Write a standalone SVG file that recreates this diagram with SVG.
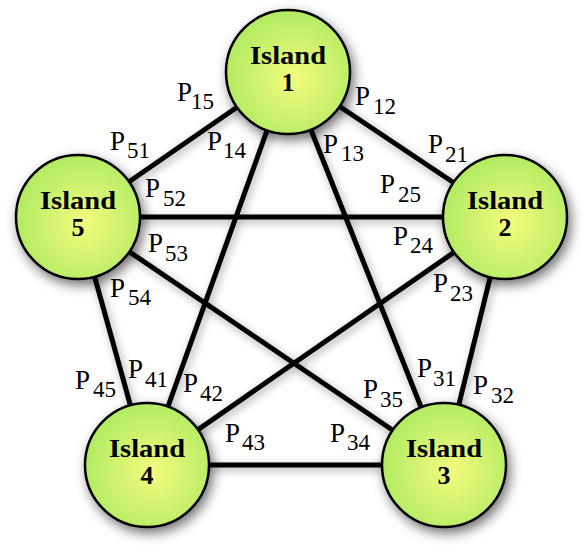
<svg xmlns="http://www.w3.org/2000/svg" width="584" height="554" viewBox="0 0 584 554">
<defs>
<radialGradient id="g" cx="0.55" cy="0.55" r="0.6">
<stop offset="0" stop-color="#f4fb7e"/>
<stop offset="1" stop-color="#acea60"/>
</radialGradient>
<filter id="ns" x="-40%" y="-40%" width="180%" height="180%">
<feDropShadow dx="3" dy="5" stdDeviation="6" flood-color="#000" flood-opacity="0.55"/>
</filter>
<filter id="ls" x="-20%" y="-20%" width="140%" height="140%">
<feDropShadow dx="2" dy="3" stdDeviation="4" flood-color="#000" flood-opacity="0.35"/>
</filter>
</defs>
<rect width="584" height="554" fill="#fff"/>
<g id="connectors" filter="url(#ls)" stroke="#000" stroke-width="5" fill="none">
<line x1="288" y1="72" x2="78" y2="217"/>
<line x1="288" y1="72" x2="505" y2="217"/>
<line x1="288" y1="72" x2="147" y2="465"/>
<line x1="288" y1="72" x2="444" y2="465"/>
<line x1="78" y1="217" x2="505" y2="217"/>
<line x1="78" y1="217" x2="444" y2="465"/>
<line x1="78" y1="217" x2="147" y2="465"/>
<line x1="505" y1="217" x2="147" y2="465"/>
<line x1="505" y1="217" x2="444" y2="465"/>
<line x1="147" y1="465" x2="444" y2="465"/>
</g>
<g font-family="Liberation Serif, serif" font-weight="bold" font-size="26" text-anchor="middle" fill="#000">
<g id="island1"><circle cx="288" cy="72" r="62" fill="url(#g)" stroke="#000" stroke-width="2.5" filter="url(#ns)"/><text x="288" y="64" textLength="76" lengthAdjust="spacingAndGlyphs">Island</text><text x="288" y="91">1</text></g>
<g id="island2"><circle cx="505" cy="217" r="62" fill="url(#g)" stroke="#000" stroke-width="2.5" filter="url(#ns)"/><text x="505" y="209" textLength="76" lengthAdjust="spacingAndGlyphs">Island</text><text x="505" y="236">2</text></g>
<g id="island3"><circle cx="444" cy="465" r="62" fill="url(#g)" stroke="#000" stroke-width="2.5" filter="url(#ns)"/><text x="444" y="457" textLength="76" lengthAdjust="spacingAndGlyphs">Island</text><text x="444" y="484">3</text></g>
<g id="island4"><circle cx="147" cy="465" r="62" fill="url(#g)" stroke="#000" stroke-width="2.5" filter="url(#ns)"/><text x="147" y="457" textLength="76" lengthAdjust="spacingAndGlyphs">Island</text><text x="147" y="484">4</text></g>
<g id="island5"><circle cx="78" cy="217" r="62" fill="url(#g)" stroke="#000" stroke-width="2.5" filter="url(#ns)"/><text x="78" y="209" textLength="76" lengthAdjust="spacingAndGlyphs">Island</text><text x="78" y="236">5</text></g>
</g>
<g id="labels" font-family="Liberation Serif, serif" font-size="27" fill="#000">
<text x="177" y="101">P<tspan font-size="23" x="191" y="109">15</tspan></text>
<text x="110" y="150">P<tspan font-size="23" x="127" y="158">51</tspan></text>
<text x="207" y="150">P<tspan font-size="23" x="223" y="158">14</tspan></text>
<text x="355" y="105">P<tspan font-size="23" x="373" y="114">12</tspan></text>
<text x="323" y="153">P<tspan font-size="23" x="341" y="161">13</tspan></text>
<text x="428" y="153">P<tspan font-size="23" x="445" y="162">21</tspan></text>
<text x="380" y="193">P<tspan font-size="23" x="398" y="202">25</tspan></text>
<text x="145" y="197">P<tspan font-size="23" x="163" y="206">52</tspan></text>
<text x="148" y="252">P<tspan font-size="23" x="165" y="261">53</tspan></text>
<text x="110" y="297">P<tspan font-size="23" x="128" y="305">54</tspan></text>
<text x="393" y="245">P<tspan font-size="23" x="410" y="253">24</tspan></text>
<text x="433" y="292">P<tspan font-size="23" x="450" y="301">23</tspan></text>
<text x="75" y="389">P<tspan font-size="23" x="93" y="397">45</tspan></text>
<text x="128" y="378">P<tspan font-size="23" x="145" y="387">41</tspan></text>
<text x="183" y="392">P<tspan font-size="23" x="200" y="401">42</tspan></text>
<text x="225" y="442">P<tspan font-size="23" x="242" y="450">43</tspan></text>
<text x="330" y="442">P<tspan font-size="23" x="347" y="450">34</tspan></text>
<text x="363" y="398">P<tspan font-size="23" x="380" y="407">35</tspan></text>
<text x="417" y="377">P<tspan font-size="23" x="433" y="386">31</tspan></text>
<text x="473" y="394">P<tspan font-size="23" x="491" y="403">32</tspan></text>
</g>
</svg>
